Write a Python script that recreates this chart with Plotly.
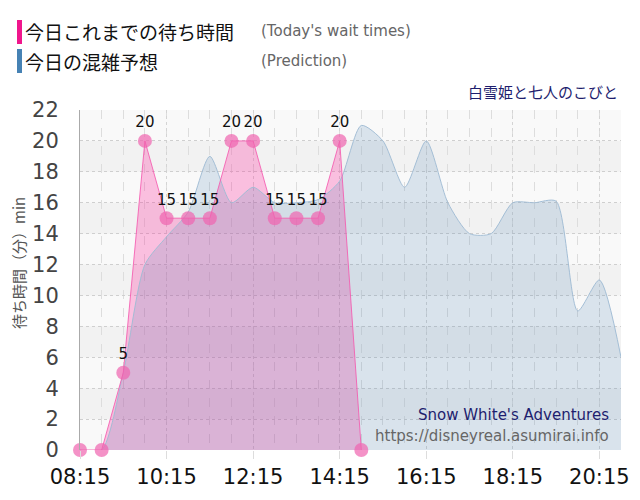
import plotly.graph_objects as go

# ---- data ----
actual_times = ["08:15", "08:45", "09:15", "09:45", "10:15", "10:45", "11:15",
                "11:45", "12:15", "12:45", "13:15", "13:45", "14:15", "14:45"]
actual_wait = [0, 0, 5, 20, 15, 15, 15, 20, 20, 15, 15, 15, 20, 0]

pred_times = ["08:15", "08:45", "09:15", "09:45", "10:15", "10:45", "11:15",
              "11:45", "12:15", "12:45", "13:15", "13:45", "14:15", "14:45",
              "15:15", "15:45", "16:15", "16:45", "17:15", "17:45", "18:15",
              "18:45", "19:15", "19:45", "20:15", "20:45"]
pred_wait = [0, 0, 5, 12, 13.8, 15.4, 19, 16, 17, 16, 16, 16.2, 17.4, 21,
             20, 17, 20, 16, 14, 14, 16, 16, 16.1, 9, 11, 6]

tick_labels = ["08:15", "10:15", "12:15", "14:15", "16:15", "18:15", "20:15"]
y_ticks = list(range(0, 23, 2))

DAY = "2024-01-01 "
def to_dt(ts):
    return [DAY + t for t in ts]

ax = to_dt(actual_times)
px_ = to_dt(pred_times)
labels = ["" if v == 0 else str(v) for v in actual_wait]

# page has an 8px body margin; figure is sized to fit inside the 640x500 window
OFF = 8
W, H = 640 - OFF, 500 - OFF
L = 80 - OFF            # plot left at window x=80
T = 110 - OFF           # plot top at window y=110
R = W - (621 - OFF)     # plot right at window x=621
B = H - (450 - OFF)     # plot bottom at window y=450
PW, PH = W - L - R, H - T - B

def xp(px):   # window pixel -> paper x
    return (px - OFF - L) / PW

def yp(py):   # window pixel -> paper y
    return (H - B - (py - OFF)) / PH

JP = "Noto Sans CJK JP"
LAT = "DejaVu Sans"

fig = go.Figure()

# pink fill (drawn under prediction)
fig.add_trace(go.Scatter(
    x=ax, y=actual_wait, mode="lines", line=dict(width=0, color="rgba(0,0,0,0)"),
    fill="tozeroy", fillcolor="rgba(255,20,147,0.25)", hoverinfo="skip", showlegend=False))

# prediction
fig.add_trace(go.Scatter(
    x=px_, y=pred_wait, mode="lines",
    line=dict(color="rgba(160,188,212,0.95)", width=1, shape="spline", smoothing=0.7),
    fill="tozeroy", fillcolor="rgba(70,130,180,0.18)", showlegend=False))

# actual line + markers + labels
fig.add_trace(go.Scatter(
    x=ax, y=actual_wait, mode="lines+markers+text",
    line=dict(color="rgba(245,90,175,0.85)", width=1),
    marker=dict(size=14, color="rgba(240,100,175,0.7)", line=dict(width=0)),
    text=labels, textposition="top center",
    textfont=dict(family=LAT, size=15, color="#111"),
    cliponaxis=False, showlegend=False))

# alternating horizontal bands
shapes = []
for y0 in range(2, 22, 4):
    shapes.append(dict(type="rect", xref="paper", yref="y", x0=0, x1=1, y0=y0, y1=y0 + 2,
                       fillcolor="#f2f2f2", line=dict(width=0), layer="below"))

# legend bars
shapes.append(dict(type="rect", xref="paper", yref="paper",
                   x0=xp(17), x1=xp(22), y0=yp(44), y1=yp(20),
                   fillcolor="#f0168c", line=dict(width=0)))
shapes.append(dict(type="rect", xref="paper", yref="paper",
                   x0=xp(17), x1=xp(22), y0=yp(73), y1=yp(49),
                   fillcolor="#4682b4", line=dict(width=0)))

annotations = [
    dict(text="今日これまでの待ち時間", x=xp(23), y=yp(32), xref="paper", yref="paper",
         xanchor="left", yanchor="middle", showarrow=False,
         font=dict(family=JP, size=19, color="#111")),
    dict(text="(Today's wait times)", x=xp(259), y=yp(31), xref="paper", yref="paper",
         xanchor="left", yanchor="middle", showarrow=False,
         font=dict(family=LAT, size=15, color="#666")),
    dict(text="今日の混雑予想", x=xp(23), y=yp(61), xref="paper", yref="paper",
         xanchor="left", yanchor="middle", showarrow=False,
         font=dict(family=JP, size=19, color="#111")),
    dict(text="(Prediction)", x=xp(259), y=yp(61), xref="paper", yref="paper",
         xanchor="left", yanchor="middle", showarrow=False,
         font=dict(family=LAT, size=15, color="#666")),
    dict(text="白雪姫と七人のこびと", x=xp(620), y=yp(91), xref="paper", yref="paper",
         xanchor="right", yanchor="middle", showarrow=False,
         font=dict(family=JP, size=15, color="#1e1e6e")),
    dict(text="Snow White's Adventures", x=xp(611), y=yp(415), xref="paper", yref="paper",
         xanchor="right", yanchor="middle", showarrow=False,
         font=dict(family=LAT, size=15, color="#1e1e6e")),
    dict(text="https://disneyreal.asumirai.info", x=xp(611), y=yp(436), xref="paper", yref="paper",
         xanchor="right", yanchor="middle", showarrow=False,
         font=dict(family=LAT, size=15, color="#666")),
    dict(text="待ち時間（分）min", x=xp(19), y=yp(263), xref="paper", yref="paper",
         xanchor="center", yanchor="middle", showarrow=False, textangle=-90,
         font=dict(family=JP, size=15, color="#555")),
]

fig.update_layout(
    width=W, height=H,
    margin=dict(l=L, r=R, t=T, b=B, autoexpand=False),
    paper_bgcolor="white", plot_bgcolor="#f9f9f9",
    shapes=shapes, annotations=annotations,
    showlegend=False,
)

fig.update_xaxes(
    type="date",
    range=[DAY + "08:15", DAY + "20:45"],
    tickvals=to_dt(tick_labels), ticktext=tick_labels,
    tickfont=dict(family=LAT, size=21, color="#111"),
    ticks="outside", ticklen=8, tickcolor="#dddddd",
    showgrid=True, gridcolor="#d4d4d4", griddash="dot", gridwidth=1,
    minor=dict(dtick=1800000, tick0=DAY + "08:15", showgrid=True,
               gridcolor="#dddddd", griddash="dash", gridwidth=1),
    showline=False, zeroline=False,
)

fig.update_yaxes(
    range=[0, 22], tickvals=y_ticks,
    tickfont=dict(family=LAT, size=21, color="#444"),
    showgrid=True, gridcolor="#cfcfcf", griddash="dot", gridwidth=1,
    showline=True, linecolor="#aaaaaa", linewidth=1,
    zeroline=False, ticks="", ticklabelstandoff=16,
)

fig.write_html("out.html")
